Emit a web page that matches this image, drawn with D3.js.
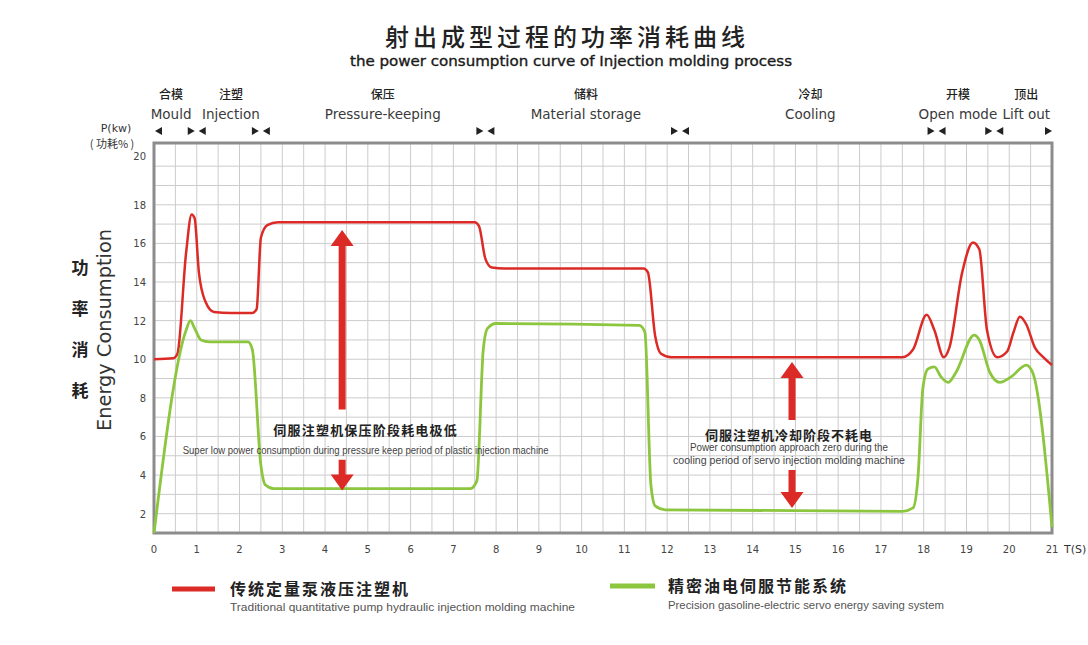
<!DOCTYPE html>
<html lang="zh">
<head>
<meta charset="utf-8">
<title>射出成型过程的功率消耗曲线</title>
<script src="https://d3js.org/d3.v7.min.js"></script>
<style>
  body { margin: 0; background: #fff; }
  text { font-family: "DejaVu Sans", sans-serif; fill: #333; }
  .cn { font-family: "Noto Sans CJK SC", sans-serif; }
  .narrow { font-family: "Liberation Sans", sans-serif; }
</style>
</head>
<body>
<svg id="chart" width="1088" height="645"></svg>
<script>
// power curve of the traditional hydraulic machine: [time (s), power]
var traditional = [
  [0, 10], [0.45, 10.05], [0.55, 10.3], [0.75, 15.5], [0.88, 17.5], [0.95, 17.3],
  [1.05, 14.5], [1.2, 13.0], [1.4, 12.45], [1.8, 12.4], [2.3, 12.4], [2.4, 12.6],
  [2.5, 16.3], [2.65, 16.95], [2.9, 17.1], [7.5, 17.1], [7.6, 16.9], [7.75, 15.2],
  [7.9, 14.75], [8.2, 14.7], [11.45, 14.7], [11.55, 14.5], [11.72, 11.2], [11.85, 10.3],
  [12.1, 10.1], [17.5, 10.1], [17.75, 10.5], [18.07, 12.3], [18.25, 11.5], [18.47, 10.1],
  [18.6, 10.6], [18.9, 14.5], [19.15, 16.05], [19.3, 15.7], [19.48, 11.5], [19.72, 10.1],
  [19.95, 10.4], [20.1, 11.4], [20.25, 12.2], [20.4, 11.8], [20.6, 10.6], [20.8, 10.1],
  [21, 9.7]
];

// power curve of the servo energy saving machine
var servo = [
  [0, 1], [0.75, 11.5], [0.85, 12.0], [0.95, 11.6], [1.1, 11.0], [1.3, 10.9],
  [2.2, 10.9], [2.3, 10.5], [2.5, 4.5], [2.6, 3.5], [2.8, 3.3], [7.4, 3.3],
  [7.55, 3.7], [7.7, 10.5], [7.8, 11.6], [8.0, 11.85], [11.35, 11.75], [11.48, 11.4],
  [11.62, 3.5], [11.72, 2.4], [11.95, 2.2], [17.5, 2.12], [17.75, 2.3], [17.87, 4],
  [17.98, 8.5], [18.1, 9.5], [18.25, 9.6], [18.4, 9.1], [18.57, 8.8], [18.75, 9.3],
  [19.18, 11.25], [19.3, 11.0], [19.55, 9.3], [19.78, 8.8], [20.05, 9.1], [20.4, 9.7],
  [20.55, 9.3], [21, 1.3]
];

var xTicks = [0, 1, 2, 3, 4, 5, 6, 7, 8, 9, 10, 11, 12, 13, 14, 15, 16, 17, 18, 19, 20, 21];
var yTicks = [2, 4, 6, 8, 10, 12, 14, 16, 18, 20];

var phaseCn = ["合模", "注塑", "保压", "储料", "冷却", "开模", "顶出"];
var phaseEn = ["Mould", "Injection", "Pressure-keeping", "Material storage", "Cooling", "Open mode", "Lift out"];
var phaseBounds = [0, 1, 2.5, 7.75, 12.3, 18.3, 19.65, 21];
var phaseCenters = [0.4, 1.8, 5.35, 10.1, 15.35, 18.8, 20.4];

// double arrows: time, tip values, and the gap left for the note text
var arrowTime = [4.4, 14.92];
var arrowTop = [16.7, 9.86];
var arrowBottom = [3.2, 2.3];
var gapTop = [7.4, 6.85];
var gapBottom = [4.8, 4.26];

var red = "#dc2b27", green = "#8cc63e";

var svg = d3.select("#chart");
var x = d3.scaleLinear().domain([0, 21]).range([154, 1052]);
var y = d3.scaleLinear().domain([1, 21.2]).range([533, 143]);

// grid
var grid = svg.append("g").attr("stroke", "#cccccc").attr("stroke-width", 1);
grid.selectAll("line.v")
    .data(d3.range(1, 42).map(function(i) { return i / 2; }))
    .enter().append("line")
    .attr("x1", d => x(d)).attr("x2", d => x(d))
    .attr("y1", y.range()[1]).attr("y2", y.range()[0]);
grid.selectAll("line.h")
    .data(d3.range(2, 21))
    .enter().append("line")
    .attr("y1", d => y(d)).attr("y2", d => y(d))
    .attr("x1", x.range()[0]).attr("x2", x.range()[1]);

// frame
svg.append("rect")
    .attr("x", x(0)).attr("y", y.range()[1])
    .attr("width", x(21) - x(0)).attr("height", y.range()[0] - y.range()[1])
    .attr("fill", "none").attr("stroke", "#8c8c8c").attr("stroke-width", 3);

// axis labels
svg.append("g").selectAll("text")
    .data(yTicks).enter().append("text")
    .attr("x", 146).attr("y", d => y(d) + (d === 20 ? -6 : 4))
    .attr("text-anchor", "end").attr("font-size", 10).style("fill", "#444")
    .text(d => d);

svg.append("g").selectAll("text")
    .data(xTicks).enter().append("text")
    .attr("x", d => x(d)).attr("y", 553)
    .attr("text-anchor", "middle").attr("font-size", 10).style("fill", "#444")
    .text(d => d);

svg.append("text").attr("x", 1064).attr("y", 553).attr("font-size", 11).text("T(S)");
svg.append("text").attr("x", 116).attr("y", 132).attr("text-anchor", "middle")
    .attr("font-size", 11).text("P(kw)");
svg.append("text").attr("class", "cn").attr("x", 112).attr("y", 148).attr("text-anchor", "middle")
    .attr("font-size", 11).text("( 功耗% )");

svg.append("g").selectAll("text")
    .data(["功", "率", "消", "耗"]).enter().append("text")
    .attr("class", "cn").attr("x", 80).attr("y", (d, i) => 274 + i * 41)
    .attr("text-anchor", "middle").attr("font-size", 17).attr("font-weight", "bold")
    .style("fill", "#222").text(d => d);

svg.append("text")
    .attr("transform", "translate(111,330) rotate(-90)")
    .attr("text-anchor", "middle").attr("font-size", 19)
    .attr("textLength", 202).attr("lengthAdjust", "spacingAndGlyphs")
    .text("Energy Consumption");

// title
svg.append("text").attr("class", "cn")
    .attr("x", 567).attr("y", 46).attr("text-anchor", "middle")
    .attr("font-size", 24).attr("font-weight", 500).attr("letter-spacing", 4)
    .style("fill", "#222").text("射出成型过程的功率消耗曲线");
svg.append("text")
    .attr("x", 571).attr("y", 66).attr("text-anchor", "middle")
    .attr("font-size", 14)
    .attr("textLength", 442).attr("lengthAdjust", "spacingAndGlyphs")
    .style("fill", "#1a1a1a").style("stroke", "#1a1a1a").style("stroke-width", 0.35)
    .text("the power consumption curve of Injection molding process");

// phases
svg.append("g").selectAll("text")
    .data(phaseCn).enter().append("text")
    .attr("class", "cn").attr("x", (d, i) => x(phaseCenters[i])).attr("y", 99)
    .attr("text-anchor", "middle").attr("font-size", 12).attr("font-weight", 500)
    .style("fill", "#222").text(d => d);
svg.append("g").selectAll("text")
    .data(phaseEn).enter().append("text")
    .attr("x", (d, i) => x(phaseCenters[i])).attr("y", 119)
    .attr("text-anchor", "middle").attr("font-size", 13.5).style("fill", "#3a3a3a")
    .text(d => d);

var markers = svg.append("g").attr("fill", "#222");
phaseBounds.forEach(function(b, i) {
  var px = x(b), my = 131;
  if (i > 0) {  // end of the previous phase
    var tip = i === phaseBounds.length - 1 ? px : px - 2;
    markers.append("path").attr("d", "M" + (tip - 7) + "," + (my - 4) + "L" + tip + "," + my + "L" + (tip - 7) + "," + (my + 4) + "Z");
  }
  if (i < phaseBounds.length - 1) {  // start of the next phase
    var tip2 = i === 0 ? px + 1 : px + 2;
    markers.append("path").attr("d", "M" + (tip2 + 7) + "," + (my - 4) + "L" + tip2 + "," + my + "L" + (tip2 + 7) + "," + (my + 4) + "Z");
  }
});

// curves
var line = d3.line()
    .x(d => x(d[0]))
    .y(d => y(d[1]))
    .curve(d3.curveMonotoneX);

svg.append("path").datum(traditional)
    .attr("d", line).attr("fill", "none")
    .attr("stroke", red).attr("stroke-width", 2.5);
svg.append("path").datum(servo)
    .attr("d", line).attr("fill", "none")
    .attr("stroke", green).attr("stroke-width", 2.8);

// arrows
var arrows = svg.append("g").attr("fill", red);
arrowTime.forEach(function(t, i) {
  var cx = x(t), hw = 11.5, hh = 16, sw = 3.5;
  var top = y(arrowTop[i]), bot = y(arrowBottom[i]);
  var g1 = y(gapTop[i]), g2 = y(gapBottom[i]);
  arrows.append("path").attr("d",
    "M" + cx + "," + top + "L" + (cx + hw) + "," + (top + hh) + "L" + (cx + sw) + "," + (top + hh) +
    "L" + (cx + sw) + "," + g1 + "L" + (cx - sw) + "," + g1 + "L" + (cx - sw) + "," + (top + hh) +
    "L" + (cx - hw) + "," + (top + hh) + "Z");
  arrows.append("path").attr("d",
    "M" + cx + "," + bot + "L" + (cx + hw) + "," + (bot - hh) + "L" + (cx + sw) + "," + (bot - hh) +
    "L" + (cx + sw) + "," + g2 + "L" + (cx - sw) + "," + g2 + "L" + (cx - sw) + "," + (bot - hh) +
    "L" + (cx - hw) + "," + (bot - hh) + "Z");
});

// notes
svg.append("text").attr("class", "cn")
    .attr("x", x(4.95)).attr("y", 435).attr("text-anchor", "middle")
    .attr("font-size", 13).attr("font-weight", "bold").attr("letter-spacing", 1.2)
    .style("fill", "#222").text("伺服注塑机保压阶段耗电极低");
svg.append("text").attr("class", "narrow")
    .attr("x", x(4.95)).attr("y", 454).attr("text-anchor", "middle")
    .attr("font-size", 10).attr("textLength", 366).attr("lengthAdjust", "spacingAndGlyphs")
    .style("fill", "#444").text("Super low power consumption during pressure keep period of plastic injection machine");

svg.append("text").attr("class", "cn")
    .attr("x", x(14.85)).attr("y", 440).attr("text-anchor", "middle")
    .attr("font-size", 13).attr("font-weight", "bold").attr("letter-spacing", 1)
    .style("fill", "#222").text("伺服注塑机冷却阶段不耗电");
svg.append("text").attr("class", "narrow")
    .attr("x", x(14.85)).attr("y", 451).attr("text-anchor", "middle")
    .attr("font-size", 10).attr("textLength", 198).attr("lengthAdjust", "spacingAndGlyphs")
    .style("fill", "#444").text("Power consumption approach zero during the");
svg.append("text").attr("class", "narrow")
    .attr("x", x(14.85)).attr("y", 464).attr("text-anchor", "middle")
    .attr("font-size", 10).attr("textLength", 232).attr("lengthAdjust", "spacingAndGlyphs")
    .style("fill", "#444").text("cooling period of servo injection molding machine");

// legend
var legend = svg.append("g");
legend.append("line").attr("x1", 172).attr("x2", 215).attr("y1", 589).attr("y2", 589)
    .attr("stroke", red).attr("stroke-width", 5);
legend.append("text").attr("class", "cn").attr("x", 230).attr("y", 595)
    .attr("font-size", 16).attr("font-weight", "bold").attr("letter-spacing", 2)
    .style("fill", "#222").text("传统定量泵液压注塑机");
legend.append("text").attr("class", "narrow").attr("x", 230).attr("y", 611)
    .attr("font-size", 11).attr("textLength", 345).attr("lengthAdjust", "spacingAndGlyphs")
    .style("fill", "#555").text("Traditional  quantitative pump hydraulic injection molding machine");

legend.append("line").attr("x1", 610).attr("x2", 655).attr("y1", 586).attr("y2", 586)
    .attr("stroke", green).attr("stroke-width", 5);
legend.append("text").attr("class", "cn").attr("x", 668).attr("y", 592)
    .attr("font-size", 16).attr("font-weight", "bold").attr("letter-spacing", 2)
    .style("fill", "#222").text("精密油电伺服节能系统");
legend.append("text").attr("class", "narrow").attr("x", 668).attr("y", 609)
    .attr("font-size", 11).attr("textLength", 276).attr("lengthAdjust", "spacingAndGlyphs")
    .style("fill", "#555").text("Precision gasoline-electric servo energy saving system");
</script>
</body>
</html>
